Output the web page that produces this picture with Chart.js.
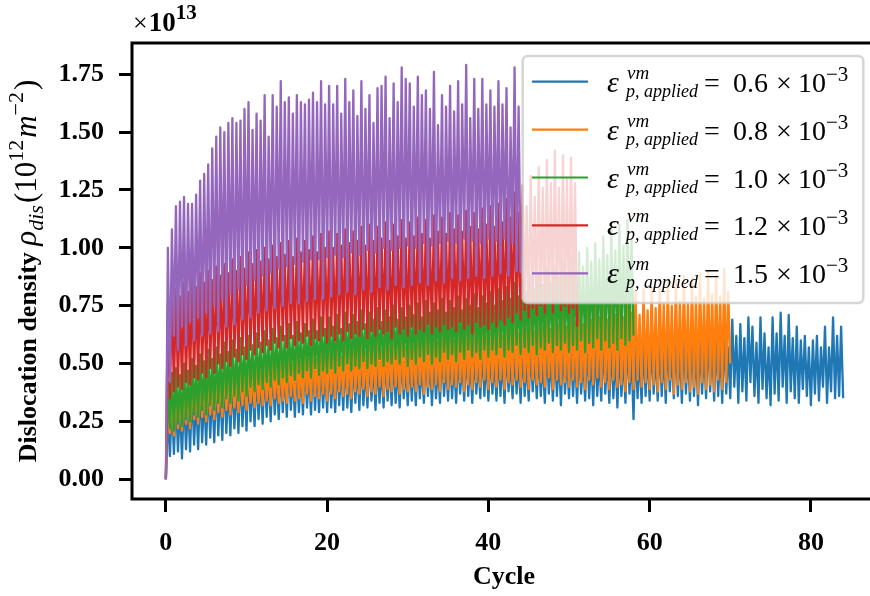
<!DOCTYPE html>
<html>
<head>
<meta charset="utf-8">
<script src="https://cdn.jsdelivr.net/npm/chart.js@4.4.0/dist/chart.umd.min.js"></script>
<style>
html, body { margin: 0; padding: 0; background: #fff; overflow: hidden; }
#wrap { width: 870px; height: 596px; overflow: hidden; }
</style>
</head>
<body>
<div id="wrap"><canvas id="graphique" width="880" height="596"></canvas></div>
<script>
// dislocation density in units of 1e11 m^-2 (plotted as x1e13)
// two peaks and two troughs per cycle, peak at k*0.5+0.25, trough at k*0.5+0.5
const labels = ["0.6", "0.8", "1.0", "1.2", "1.5"];
const colors = ["#1f77b4", "#ff7f0e", "#2ca02c", "#d62728", "#9467bd"];
const xTicks = [0, 20, 40, 60, 80];
const yTicks = [0, 0.25, 0.5, 0.75, 1.0, 1.25, 1.5, 1.75];

const bluePeaks = [
  30,34,36,33,38,35,40,37,42,38,43,40,44,41,46,42,45,43,47,44,
  48,44,47,45,49,46,50,45,49,47,51,46,50,48,52,47,51,49,50,48,
  52,48,51,49,53,48,52,50,54,49,53,50,52,49,54,51,53,50,55,49,
  54,51,53,50,55,52,54,50,56,51,55,52,54,51,56,52,55,51,57,52,
  56,52,55,53,57,51,56,53,58,52,57,54,56,52,58,53,57,54,59,53,
  58,54,57,53,59,55,58,53,60,54,59,55,58,54,61,55,60,54,59,56,
  61,55,60,56,62,55,61,57,63,56,62,57,61,56,63,58,62,57,64,57,
  69,62,67,61,70,66,59,70,63,57,70,63,72,62,71,61,66,60,62,57,
  60,62,57,66,57,70,62,66
];
const blueTroughs = [
  10,11,12,9,13,12,15,13,16,15,18,16,19,17,20,19,22,20,23,21,
  25,23,26,24,27,25,28,26,29,27,30,27,29,28,31,28,30,29,31,29,
  31,29,32,30,31,29,33,30,32,31,34,30,33,31,34,32,33,31,35,32,
  34,32,35,33,36,32,35,33,36,34,35,33,37,34,36,33,37,35,36,34,
  37,34,36,33,38,35,37,33,36,34,38,35,36,33,37,34,36,32,37,35,
  36,33,37,34,35,32,36,34,37,33,35,31,36,33,37,26,35,33,36,34,
  37,34,36,33,38,35,36,33,37,34,36,32,37,35,38,34,36,33,37,35,
  40,33,38,34,42,36,33,39,35,32,37,34,40,33,38,35,33,39,36,32,
  37,34,40,33,38,35,36,35
];

const orangePeaks = [
  32,36,38,35,40,37,42,38,44,40,45,41,46,43,48,44,47,45,49,46,
  50,46,51,47,52,48,53,49,54,50,55,50,56,51,55,52,57,52,58,53,
  58,54,59,53,60,55,59,56,61,55,60,57,62,56,61,57,63,58,62,57,
  63,58,64,59,63,60,65,59,64,61,66,60,65,61,67,62,66,61,68,62,
  67,63,68,62,69,64,70,63,71,65,72,64,73,66,72,65,74,67,75,66,
  74,68,76,67,77,69,76,70,78,69,79,71,80,70,78,72,81,71,82,73,
  83,74,84,76,85,75,86,77,88,76,87,79,89,78,90,80,88,79,91,81
];
const orangeTroughs = [
  20,19,22,21,24,22,26,24,27,25,28,26,29,27,30,28,31,29,32,30,
  33,31,33,32,34,32,35,33,34,33,36,34,35,33,37,34,36,35,37,34,
  37,35,38,36,37,35,38,37,39,36,38,37,40,36,39,38,40,37,39,38,
  40,38,41,37,40,39,41,38,42,39,41,40,42,38,41,39,42,40,43,39,
  42,40,43,39,42,41,43,40,42,39,43,41,42,40,44,39,43,41,42,40,
  43,40,42,39,43,41,44,40,42,39,43,40,41,38,42,39,43,40,42,39,
  41,38,42,39,43,37,41,39,42,38,40,37,42,39,41,38,43,39,42,50
];

const greenPeaks = [
  42,46,48,45,50,47,52,49,54,51,56,52,57,54,59,55,60,56,61,57,
  62,58,63,59,64,60,65,61,66,62,67,62,68,63,67,64,69,64,70,65,
  70,66,71,65,72,67,71,68,73,67,72,69,74,68,73,70,75,69,74,70,
  75,71,76,70,77,72,76,73,78,72,77,74,79,73,78,75,80,74,79,76,
  81,75,82,77,83,78,85,79,86,81,88,82,89,84,91,85,92,87,94,88,
  96,90,98,92,100,94,102,95,105,97,108,99,110,101,112,104
];
const greenTroughs = [
  22,21,24,23,26,25,28,27,30,28,32,30,33,31,35,33,36,34,38,36,
  40,38,41,39,42,40,43,41,44,42,45,43,46,44,47,44,48,45,47,46,
  48,46,49,47,50,47,49,48,51,48,50,49,52,49,51,50,52,50,53,49,
  52,50,53,51,54,50,53,51,55,52,54,51,55,52,56,53,55,52,56,53,
  56,54,57,53,56,55,58,54,57,55,58,54,57,56,59,55,58,56,59,55,
  58,56,60,55,59,57,61,56,60,57,59,56,61,58,60,62
];

const redPeaks = [
  76,80,82,79,85,81,87,83,89,85,90,86,92,88,93,89,95,90,96,91,
  98,93,99,94,100,95,101,96,102,97,103,96,104,98,103,99,105,98,106,100,
  107,100,106,101,108,102,107,103,109,101,110,103,109,104,111,103,110,105,112,104,
  111,105,113,106,112,104,114,107,113,106,115,108,114,107,116,109,115,108,117,110,
  118,109,119,111,121,113,124,115,127,118,131,122,135,126,138,128,142,126,140,130,139,128
];
const redTroughs = [
  35,38,40,39,42,41,44,43,46,44,48,46,50,48,51,49,53,51,54,52,
  56,54,57,55,58,56,59,57,60,57,61,58,60,59,62,58,61,60,62,59,
  62,60,63,60,64,61,63,62,65,61,64,62,65,63,64,61,66,63,65,62,
  66,63,65,64,67,63,66,64,67,65,66,64,68,65,67,63,68,66,67,65,
  68,66,69,67,70,68,72,69,73,70,74,71,75,72,76,72,77,73,75,72,74,66
];

const purplePeaks = [
  100,108,118,120,122,119,119,123,129,132,136,143,148,152,150,154,156,154,155,160,
  163,151,158,155,166,148,166,161,172,163,165,158,166,163,162,164,167,163,172,162,
  170,162,170,158,173,163,168,157,172,160,166,154,169,
  170,174,156,171,163,178,173,171,161,174,166,168,160,176,153,166,161,170,159,172,
  162,179,156,173,160,173,162,168,161,172,162,169,152,178,161
];
const purpleTroughs = [
  42,62,56,66,58,68,60,70,62,72,63,75,64,77,66,80,67,82,69,84,
  70,86,72,88,73,89,74,91,75,92,76,93,76,94,77,95,78,95,78,96,
  79,97,80,96,81,98,80,97,82,99,81,98,83,100,82,99,84,100,83,101,
  84,100,85,102,84,101,86,102,85,103,87,102,86,104,87,103,88,102,87,104,
  88,103,89,104,88,102,90,89
];

function zigzag(peaks, troughs) {
  const pts = [{x: 0, y: 0}];
  const n = Math.min(peaks.length, troughs.length);
  for (let k = 0; k < n; k++) {
    pts.push({x: 0.25 + 0.5 * k, y: peaks[k] / 100});
    pts.push({x: 0.5 + 0.5 * k, y: troughs[k] / 100});
  }
  return pts;
}

const series = [
  zigzag(bluePeaks, blueTroughs),
  zigzag(orangePeaks, orangeTroughs),
  zigzag(greenPeaks, greenTroughs),
  zigzag(redPeaks, redTroughs),
  zigzag(purplePeaks, purpleTroughs)
];

const serif = "'Liberation Serif', 'Times New Roman', serif";

// text pieces: [text, font, dy, extra gap after]
function runs(ctx, x, y, parts, measureOnly) {
  for (const [txt, font, dy, gap] of parts) {
    ctx.font = font;
    if (!measureOnly) ctx.fillText(txt, x, y + dy);
    x += ctx.measureText(txt).width + (gap || 0);
  }
  return x;
}

const decorations = {
  id: "decorations",
  afterDatasetsDraw(chart) {
    const ctx = chart.ctx;
    const a = chart.chartArea;
    ctx.save();
    // spines
    ctx.strokeStyle = "#000";
    ctx.lineWidth = 3;
    ctx.strokeRect(a.left, a.top, a.right - a.left, a.bottom - a.top);

    ctx.fillStyle = "#000";
    ctx.textBaseline = "alphabetic";
    ctx.textAlign = "left";

    // offset text
    runs(ctx, 133, 31, [
      ["\u00d7", "26px " + serif, 0, 1],
      ["10", "bold 27px " + serif, 0, 0],
      ["13", "bold 21px " + serif, -12, 0]
    ]);

    // x label
    ctx.font = "bold 26px " + serif;
    ctx.textAlign = "center";
    ctx.fillText("Cycle", 504, 584);
    ctx.textAlign = "left";

    // y label
    const yparts = [
      ["Dislocation density ", "bold 26px " + serif, 0, 0],
      ["\u03c1", "italic 31px " + serif, 0, 0],
      ["dis", "italic 22px " + serif, 7, 2],
      ["(10", "31px " + serif, 0, 0],
      ["12", "22px " + serif, -13, 2],
      ["m", "italic 31px " + serif, 0, 0],
      ["\u22122", "22px " + serif, -13, 2],
      [")", "31px " + serif, 0, 0]
    ];
    const w = runs(ctx, 0, 0, yparts, true);
    ctx.save();
    ctx.translate(36, (a.top + a.bottom) / 2);
    ctx.rotate(-Math.PI / 2);
    runs(ctx, -w / 2, 0, yparts);
    ctx.restore();

    // legend
    const lx = 522.7, ly = 56, lw = 340.6, lh = 247;
    ctx.beginPath();
    ctx.roundRect(lx, ly, lw, lh, 5);
    ctx.fillStyle = "rgba(255,255,255,0.8)";
    ctx.fill();
    ctx.lineWidth = 2.5;
    ctx.strokeStyle = "rgba(204,204,204,0.8)";
    ctx.stroke();

    ctx.fillStyle = "#000";
    for (let i = 0; i < labels.length; i++) {
      const rowY = 81.7 + 47.9 * i;
      ctx.strokeStyle = colors[i];
      ctx.lineWidth = 2.2;
      ctx.beginPath();
      ctx.moveTo(532, rowY);
      ctx.lineTo(588, rowY);
      ctx.stroke();
      const b = rowY + 10;
      ctx.font = "italic 30px " + serif;
      ctx.fillText("\u03b5", 607, b);
      ctx.font = "italic 19px " + serif;
      ctx.fillText("vm", 627, b - 13);
      ctx.font = "italic 18px " + serif;
      ctx.fillText("p, applied", 626, b + 5);
      ctx.font = "28px " + serif;
      ctx.fillText("=", 704, b);
      ctx.fillText(labels[i], 733, b);
      ctx.fillText("\u00d7", 776, b);
      ctx.fillText("10", 798, b);
      ctx.font = "21px " + serif;
      ctx.fillText("\u22123", 826, b - 11);
    }
    ctx.restore();
  }
};

const data = {
  datasets: series.map((pts, i) => ({
    label: labels[i],
    data: pts,
    borderColor: colors[i],
    backgroundColor: colors[i],
    borderWidth: 2.3,
    pointRadius: 0,
    tension: 0,
    fill: false,
    borderJoinStyle: "round",
    order: 5 - i
  }))
};

const tickFont = {family: serif, size: 26, weight: "bold"};

const config = {
  type: "line",
  data: data,
  options: {
    responsive: false,
    animation: false,
    devicePixelRatio: 1,
    events: [],
    layout: {padding: {top: 43, left: 0, right: 3, bottom: 0}},
    scales: {
      x: {
        type: "linear",
        min: -4.2,
        max: 88.2,
        afterBuildTicks: s => { s.ticks = xTicks.map(v => ({value: v})); },
        afterFit: s => { s.height = 97; },
        border: {display: false},
        grid: {drawOnChartArea: false, drawTicks: true, tickLength: 13, tickWidth: 3, tickColor: "#000"},
        ticks: {color: "#000", font: tickFont, padding: 16, maxRotation: 0, autoSkip: false,
          callback: v => String(v)}
      },
      y: {
        type: "linear",
        min: -0.085,
        max: 1.885,
        afterBuildTicks: s => { s.ticks = yTicks.map(v => ({value: v})); },
        afterFit: s => { s.width = 132; },
        border: {display: false},
        grid: {drawOnChartArea: false, drawTicks: true, tickLength: 13, tickWidth: 3, tickColor: "#000"},
        ticks: {color: "#000", font: tickFont, padding: 15, autoSkip: false,
          callback: v => v.toFixed(2)}
      }
    },
    plugins: {
      legend: {display: false},
      tooltip: {enabled: false},
      title: {display: false}
    }
  },
  plugins: [decorations]
};

const chart1 = new Chart(document.querySelector("#graphique"), config);
</script>
</body>
</html>
